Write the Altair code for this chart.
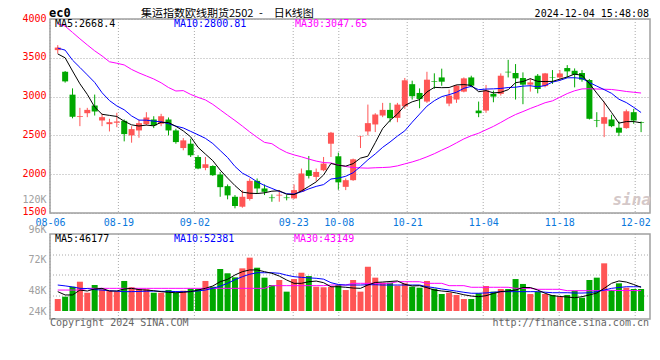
import altair as alt
import pandas as pd

# ---------------- data ----------------
open_ = [3599, 3320, 3025, 2740, 2786, 2885, 2692, 2645, 2663, 2688,
         2500, 2564, 2645, 2705, 2650, 2705, 2564, 2337, 2393, 2222,
         2081, 2106, 1996, 1846, 1709, 1581, 1680, 1914, 1816, 1700,
         1725, 1700, 1688, 1773, 2051, 1965, 2051, 2393, 2231, 1837,
         1923, 2485, 2551, 2641, 2756, 2829, 2726, 2875, 3160, 3047,
         2936, 3200, 3247, 2910, 2962, 3064, 3247, 2820, 2820, 3035,
         3035, 3320, 3304, 3240, 3154, 3269, 3135, 3250, 3247, 3368,
         3333, 3304, 3214, 2696, 2650, 2705, 2599, 2594, 2799, 2668]
high = [3663, 3330, 3106, 2855, 2855, 3026, 2778, 2714, 2791, 2705,
        2619, 2700, 2799, 2747, 2778, 2731, 2586, 2465, 2457, 2244,
        2222, 2115, 2029, 1868, 1731, 1795, 1945, 1945, 1868, 1740,
        1795, 1731, 1868, 2073, 2235, 2073, 2222, 2545, 2278, 1945,
        2201, 2492, 2897, 2786, 2919, 2919, 2919, 3240, 3205, 3106,
        3320, 3300, 3360, 3090, 3150, 3247, 3269, 2936, 3150, 3077,
        3299, 3474, 3419, 3312, 3235, 3291, 3305, 3342, 3342, 3406,
        3363, 3342, 3227, 2799, 2936, 2765, 2679, 2833, 2842, 2679]
low = [3555, 3180, 2720, 2619, 2735, 2756, 2619, 2551, 2606, 2423,
       2406, 2470, 2628, 2594, 2619, 2500, 2393, 2308, 2222, 2064,
       2051, 1978, 1709, 1676, 1560, 1568, 1660, 1752, 1731, 1645,
       1645, 1663, 1679, 1773, 1945, 1910, 2038, 2222, 1800, 1795,
       1914, 2337, 2500, 2543, 2735, 2670, 2670, 2842, 2962, 2850,
       2919, 3100, 3140, 2876, 2919, 3055, 3119, 2735, 2791, 2927,
       3013, 3247, 2962, 2902, 3064, 3042, 3119, 3163, 3205, 3247,
       3119, 3192, 2705, 2606, 2478, 2606, 2491, 2586, 2650, 2542]
close = [3632, 3196, 2740, 2750, 2829, 2808, 2735, 2670, 2679, 2517,
         2581, 2658, 2731, 2628, 2747, 2564, 2414, 2436, 2244, 2073,
         2128, 1987, 1833, 1727, 1590, 1709, 1914, 1816, 1773, 1692,
         1735, 1692, 1795, 2009, 1978, 2029, 2137, 2535, 1895, 1923,
         2192, 2490, 2658, 2769, 2829, 2722, 2897, 3210, 3005, 2970,
         3218, 3192, 3192, 3013, 3141, 3235, 3141, 2786, 3080, 3000,
         3269, 3312, 3235, 3154, 3183, 3098, 3299, 3244, 3299, 3325,
         3282, 3218, 2714, 2688, 2735, 2619, 2535, 2811, 2692, 2660]
ma5 = [3550, 3500, 3330, 3165, 3029, 2865, 2772, 2758, 2744, 2682,
       2636, 2621, 2633, 2623, 2669, 2666, 2617, 2558, 2481, 2346,
       2259, 2174, 2053, 1950, 1853, 1769, 1755, 1751, 1760, 1781,
       1786, 1742, 1737, 1785, 1842, 1901, 1990, 2138, 2115, 2104,
       2136, 2207, 2232, 2406, 2588, 2694, 2775, 2885, 2933, 2961,
       3060, 3119, 3115, 3117, 3151, 3155, 3144, 3063, 3077, 3048,
       3055, 3089, 3179, 3194, 3231, 3196, 3194, 3196, 3225, 3253,
       3290, 3274, 3168, 3045, 2927, 2795, 2658, 2678, 2678, 2663]
ma10 = [3625, 3599, 3470, 3376, 3280, 3183, 3050, 2949, 2880, 2830,
        2751, 2697, 2696, 2684, 2675, 2651, 2619, 2596, 2552, 2508,
        2462, 2395, 2305, 2215, 2100, 2014, 1964, 1902, 1855, 1817,
        1778, 1748, 1744, 1773, 1811, 1843, 1866, 1938, 1950, 1973,
        2019, 2098, 2185, 2261, 2346, 2415, 2491, 2559, 2670, 2774,
        2877, 2947, 3000, 3025, 3056, 3107, 3132, 3089, 3097, 3100,
        3105, 3117, 3121, 3135, 3140, 3126, 3142, 3187, 3209, 3242,
        3243, 3234, 3182, 3135, 3090, 3042, 2966, 2923, 2862, 2795]
ma30 = [3937, 3908, 3827, 3745, 3666, 3590, 3524, 3449, 3430, 3408,
        3350, 3305, 3266, 3227, 3178, 3117, 3072, 3077, 3028, 2990,
        2957, 2900, 2830, 2760, 2692, 2620, 2545, 2475, 2410, 2393,
        2330, 2280, 2249, 2224, 2195, 2169, 2150, 2145, 2119, 2099,
        2086, 2081, 2078, 2083, 2086, 2091, 2107, 2133, 2158, 2188,
        2224, 2264, 2310, 2353, 2404, 2455, 2496, 2528, 2572, 2616,
        2667, 2721, 2769, 2807, 2847, 2883, 2921, 2945, 2992, 3039,
        3075, 3099, 3101, 3098, 3095, 3092, 3080, 3066, 3056, 3046]
vol_k = [35.2, 37.4, 46.7, 51.4, 41.1, 48.3, 44.3, 42.7, 42.1, 52.1,
         46.2, 44.6, 44.3, 41.1, 41.1, 43.6, 41.1, 43.0, 44.9, 44.6,
         52.1, 46.7, 63.3, 59.3, 55.5, 63.9, 73.9, 64.5, 55.2, 48.3,
         53.0, 42.1, 53.9, 59.8, 56.7, 46.7, 46.2, 46.7, 48.3, 43.6,
         53.0, 42.1, 65.4, 55.2, 50.5, 50.5, 47.7, 49.9, 46.7, 45.8,
         52.1, 44.9, 39.9, 41.1, 39.0, 35.2, 35.2, 40.6, 47.4, 42.1,
         44.6, 44.6, 53.9, 49.3, 39.9, 42.1, 39.9, 39.0, 37.4, 39.0,
         43.0, 36.4, 53.0, 55.2, 68.6, 43.6, 49.9, 45.8, 44.6, 44.6]
vma5_k = [42.1, 39.0, 39.0, 43.6, 42.7, 44.6, 45.2, 42.7, 42.7, 44.6,
          45.2, 44.0, 43.6, 43.0, 42.1, 41.5, 41.1, 41.5, 42.1, 43.6,
          45.2, 47.4, 51.4, 53.6, 57.7, 60.8, 62.4, 62.4, 60.8, 59.3,
          56.7, 53.0, 49.9, 49.9, 51.4, 52.0, 50.5, 46.7, 46.7, 46.2,
          45.5, 45.2, 48.3, 50.7, 51.1, 51.6, 52.1, 49.0, 47.4, 47.7,
          45.8, 43.6, 42.7, 42.1, 40.8, 39.2, 38.0, 37.4, 38.3, 40.4,
          42.2, 42.7, 43.6, 46.0, 46.0, 43.6, 40.6, 38.3, 37.6, 37.1,
          36.4, 37.4, 39.0, 40.8, 45.2, 49.9, 52.1, 51.1, 48.8, 46.2]
vma10_k = [48.3, 47.5, 46.5, 45.2, 45.0, 44.0, 43.6, 43.0, 42.5, 42.1,
           42.1, 42.3, 42.5, 42.6, 42.4, 42.4, 42.2, 42.1, 42.3, 42.8,
           43.6, 45.2, 47.2, 49.9, 53.3, 56.1, 58.4, 59.8, 59.8, 59.8,
           59.3, 57.5, 56.1, 55.5, 55.0, 54.6, 53.8, 50.5, 48.8, 48.3,
           48.3, 48.3, 48.6, 48.6, 48.3, 48.3, 48.3, 48.3, 48.3, 48.3,
           46.7, 45.8, 44.6, 43.6, 42.6, 41.5, 40.6, 40.6, 40.9, 41.5,
           42.1, 42.1, 42.1, 42.1, 42.1, 42.1, 41.6, 41.1, 41.1, 41.1,
           40.8, 40.8, 41.1, 42.1, 43.6, 45.2, 46.0, 46.7, 46.7, 46.7]
vma30_k = [43.6, 43.6, 43.6, 43.6, 45.2, 45.2, 45.2, 45.2, 45.2, 45.2,
           45.2, 45.2, 45.2, 45.2, 45.2, 45.2, 45.2, 45.2, 45.2, 45.2,
           45.2, 45.2, 45.2, 45.2, 45.2, 45.2, 45.2, 45.2, 45.2, 47.7,
           47.7, 47.7, 47.7, 47.7, 47.7, 47.7, 47.7, 48.3, 48.3, 48.3,
           49.9, 49.9, 49.9, 49.9, 49.9, 49.9, 51.4, 51.4, 51.4, 51.4,
           49.9, 49.9, 49.9, 47.7, 47.7, 47.7, 46.2, 46.2, 46.2, 46.2,
           46.2, 46.2, 45.2, 45.2, 45.2, 44.3, 44.3, 44.3, 44.3, 43.0,
           43.0, 43.0, 43.0, 43.0, 43.3, 43.3, 43.2, 43.2, 43.1, 43.1]

tick_idx = [0, 9, 19, 32, 38, 47, 57, 67, 77]
tick_labels = ["08-06", "08-19", "09-02", "09-23", "10-08", "10-21", "11-04", "11-18", "12-02"]
price_ticks = [1500, 2000, 2500, 3000, 3500, 4000]
vol_ticks = [24000, 48000, 72000, 96000, 120000]

title_text = "集运指数欧线期货2502\u2002-\u3000日K线图"
code_text = "ec0"
time_text = "2024-12-04 15:48:08"
price_legend = ["MA5:2668.4", "MA10:2800.81", "MA30:3047.65"]
vol_legend = ["MA5:46177", "MA10:52381", "MA30:43149"]
footer_left = "Copyright 2024 SINA.COM"
footer_right = "http://finance.sina.com.cn"
watermark = "sina"

# ---------------- table ----------------
n = len(close)
df = pd.DataFrame({
    "i": list(range(n)),
    "open": open_, "high": high, "low": low, "close": close,
    "ma5": ma5, "ma10": ma10, "ma30": ma30,
    "vol": [v * 1000 for v in vol_k],
    "vma5": [v * 1000 for v in vma5_k],
    "vma10": [v * 1000 for v in vma10_k],
    "vma30": [v * 1000 for v in vma30_k],
    "dir": ["up" if c >= o else "down" for o, c in zip(open_, close)],
})
df["base"] = vol_ticks[0]

# ---------------- style ----------------
W, H = 600, 300
TOP_H = 194          # price panel height
VOL_TOP = 215        # volume panel top
RED, GREEN = "#ff5555", "#00a800"
GRID = "#aaaaaa"
FRAME = "#a0a0a0"
MONO = "DejaVu Sans Mono"
CJK = "Noto Sans CJK SC"

xs = alt.Scale(domain=[-0.373, 79.53], nice=False, zero=False)
yp = alt.Scale(domain=[134, 4000], nice=False, zero=False)
yv = alt.Scale(domain=[16520, 297150], nice=False, zero=False)
color_dir = alt.Color("dir:N", scale=alt.Scale(domain=["up", "down"], range=[RED, GREEN]), legend=None)

price_axis = alt.Axis(values=price_ticks, orient="left", grid=True, gridColor=GRID, gridDash=[1, 2],
                      gridWidth=1, domain=False, ticks=False, labelPadding=4, labelColor="#ff0000",
                      labelFont=MONO, labelFontSize=10, labelFlush=False, labelOverlap=False,
                      labelBaseline="middle", labelOffset=-1, format="d", title=None)
vol_axis = alt.Axis(values=vol_ticks, orient="left", grid=False, domain=False, ticks=False,
                    labelPadding=4, labelColor="#a0a0a0", labelFont=MONO, labelFontSize=10,
                    labelFlush=False, labelOverlap=False, title=None, labelLineHeight=18,
                    labelExpr="datum.value/1000 + 'K'",
                    labelBaseline={"condition": [{"test": "datum.value >= 120000", "value": "line-bottom"},
                                                 {"test": "datum.value >= 96000", "value": "bottom"},
                                                 {"test": "datum.value == 48000", "value": "top"}],
                                   "value": "middle"})

XC = alt.X("i:Q", scale=xs, axis=None)

def PY(f):
    return alt.Y(f"{f}:Q", scale=yp, axis=price_axis)

def VY(f):
    return alt.Y(f"{f}:Q", scale=yv, axis=vol_axis)

base = alt.Chart(df)

wick = base.mark_rule(strokeWidth=1).encode(x=XC, y=PY("low"), y2="high:Q", color=color_dir)
body = base.mark_bar(size=6).encode(x=XC, y=PY("open"), y2="close:Q", color=color_dir)
l5 = base.mark_line(color="#000000", strokeWidth=1).encode(x=XC, y=PY("ma5"))
l10 = base.mark_line(color="#0000ff", strokeWidth=1).encode(x=XC, y=PY("ma10"))
l30 = base.mark_line(color="#ff00ff", strokeWidth=1).encode(x=XC, y=PY("ma30"))
price = alt.layer(wick, body, l30, l10, l5)

vbar = base.mark_bar(size=6).encode(x=XC, y=VY("vol"), y2="base:Q", color=color_dir)
v5 = base.mark_line(color="#000000", strokeWidth=1).encode(x=XC, y=VY("vma5"))
v10 = base.mark_line(color="#0000ff", strokeWidth=1).encode(x=XC, y=VY("vma10"))
v30 = base.mark_line(color="#ff00ff", strokeWidth=1).encode(x=XC, y=VY("vma30"))
vol = alt.layer(vbar, v30, v10, v5)

# date grid / labels (Sina places these on a slightly different pitch)
label_expr = "".join(f"datum.value == {i} ? '{l}' : " for i, l in zip(tick_idx, tick_labels)) + "''"
gx_axis = alt.Axis(values=tick_idx, labelExpr=label_expr, orient="bottom", offset=-(H - TOP_H),
                   domain=False, ticks=False, grid=False, labelPadding=4, labelColor="#0a78dc",
                   labelFont=MONO, labelFontSize=10, labelFlush=False, labelOverlap=False,
                   labelBaseline="top", title=None)
GX = alt.X("g:Q", scale=alt.Scale(domain=[0, 600 / 7.6], nice=False, zero=False), axis=gx_axis)
gdf = pd.DataFrame({"g": tick_idx, "lab": tick_labels})
vg_top = alt.Chart(gdf).mark_rule(color=GRID, strokeDash=[1, 2], strokeWidth=1).encode(
    x=GX, y=alt.value(0), y2=alt.value(TOP_H))
vg_bot = alt.Chart(gdf).mark_rule(color=GRID, strokeDash=[1, 2], strokeWidth=1).encode(
    x=GX, y=alt.value(VOL_TOP), y2=alt.value(H))
grid = alt.layer(vg_top, vg_bot)

one = pd.DataFrame({"k": [0]})

def hrule(y):
    return alt.Chart(one).mark_rule(color=GRID, strokeDash=[1, 2], strokeWidth=1).encode(
        x=alt.value(0), x2=alt.value(W), y=alt.value(y))

def frame(y0, y1):
    return alt.Chart(one).mark_rect(fillOpacity=0, stroke=FRAME, strokeWidth=1.5).encode(
        x=alt.value(0), x2=alt.value(W), y=alt.value(y0), y2=alt.value(y1))

def txt(s, x, y, color="#000000", size=10, font=MONO, align="left", weight="normal", style="normal"):
    return alt.Chart(pd.DataFrame({"t": [s]})).mark_text(
        font=font, fontSize=size, align=align, baseline="alphabetic", color=color,
        fontWeight=weight, fontStyle=style).encode(x=alt.value(x), y=alt.value(y), text="t:N")

vol_grid = alt.layer(hrule(236), hrule(256), hrule(277))

decor = alt.layer(
    frame(0, TOP_H), frame(VOL_TOP, H),
    txt(code_text, -1, -2.5, size=12, weight="bold"),
    txt(title_text, 91, -2, size=11, font=CJK),
    txt(time_text, 599, -2.5, align="right"),
    txt(price_legend[0], 5, 8.3),
    txt(price_legend[1], 124, 8.3, color="#0000ff"),
    txt(price_legend[2], 245, 8.3, color="#ff00ff"),
    txt(vol_legend[0], 5, 222.7),
    txt(vol_legend[1], 124, 222.7, color="#0000ff"),
    txt(vol_legend[2], 244, 222.7, color="#ff00ff"),
    txt(footer_left, 0, 306.5, color="#666666"),
    txt(footer_right, 599, 306.5, color="#666666", align="right"),
    txt(watermark, 601, 186, color="#d4c8c8", size=16, align="right", weight="bold", style="italic"),
)

chart = alt.layer(grid, vol_grid, price, vol, decor).resolve_scale(
    x="independent", y="independent"
).properties(
    width=W, height=H,
    autosize=alt.AutoSizeParams(type="none"),
    padding={"left": 42, "top": 11, "right": 2, "bottom": 33},
    background="#ffffff",
).configure_view(stroke=None)

chart.save("out.html", embed_options={"renderer": "svg", "actions": False})
